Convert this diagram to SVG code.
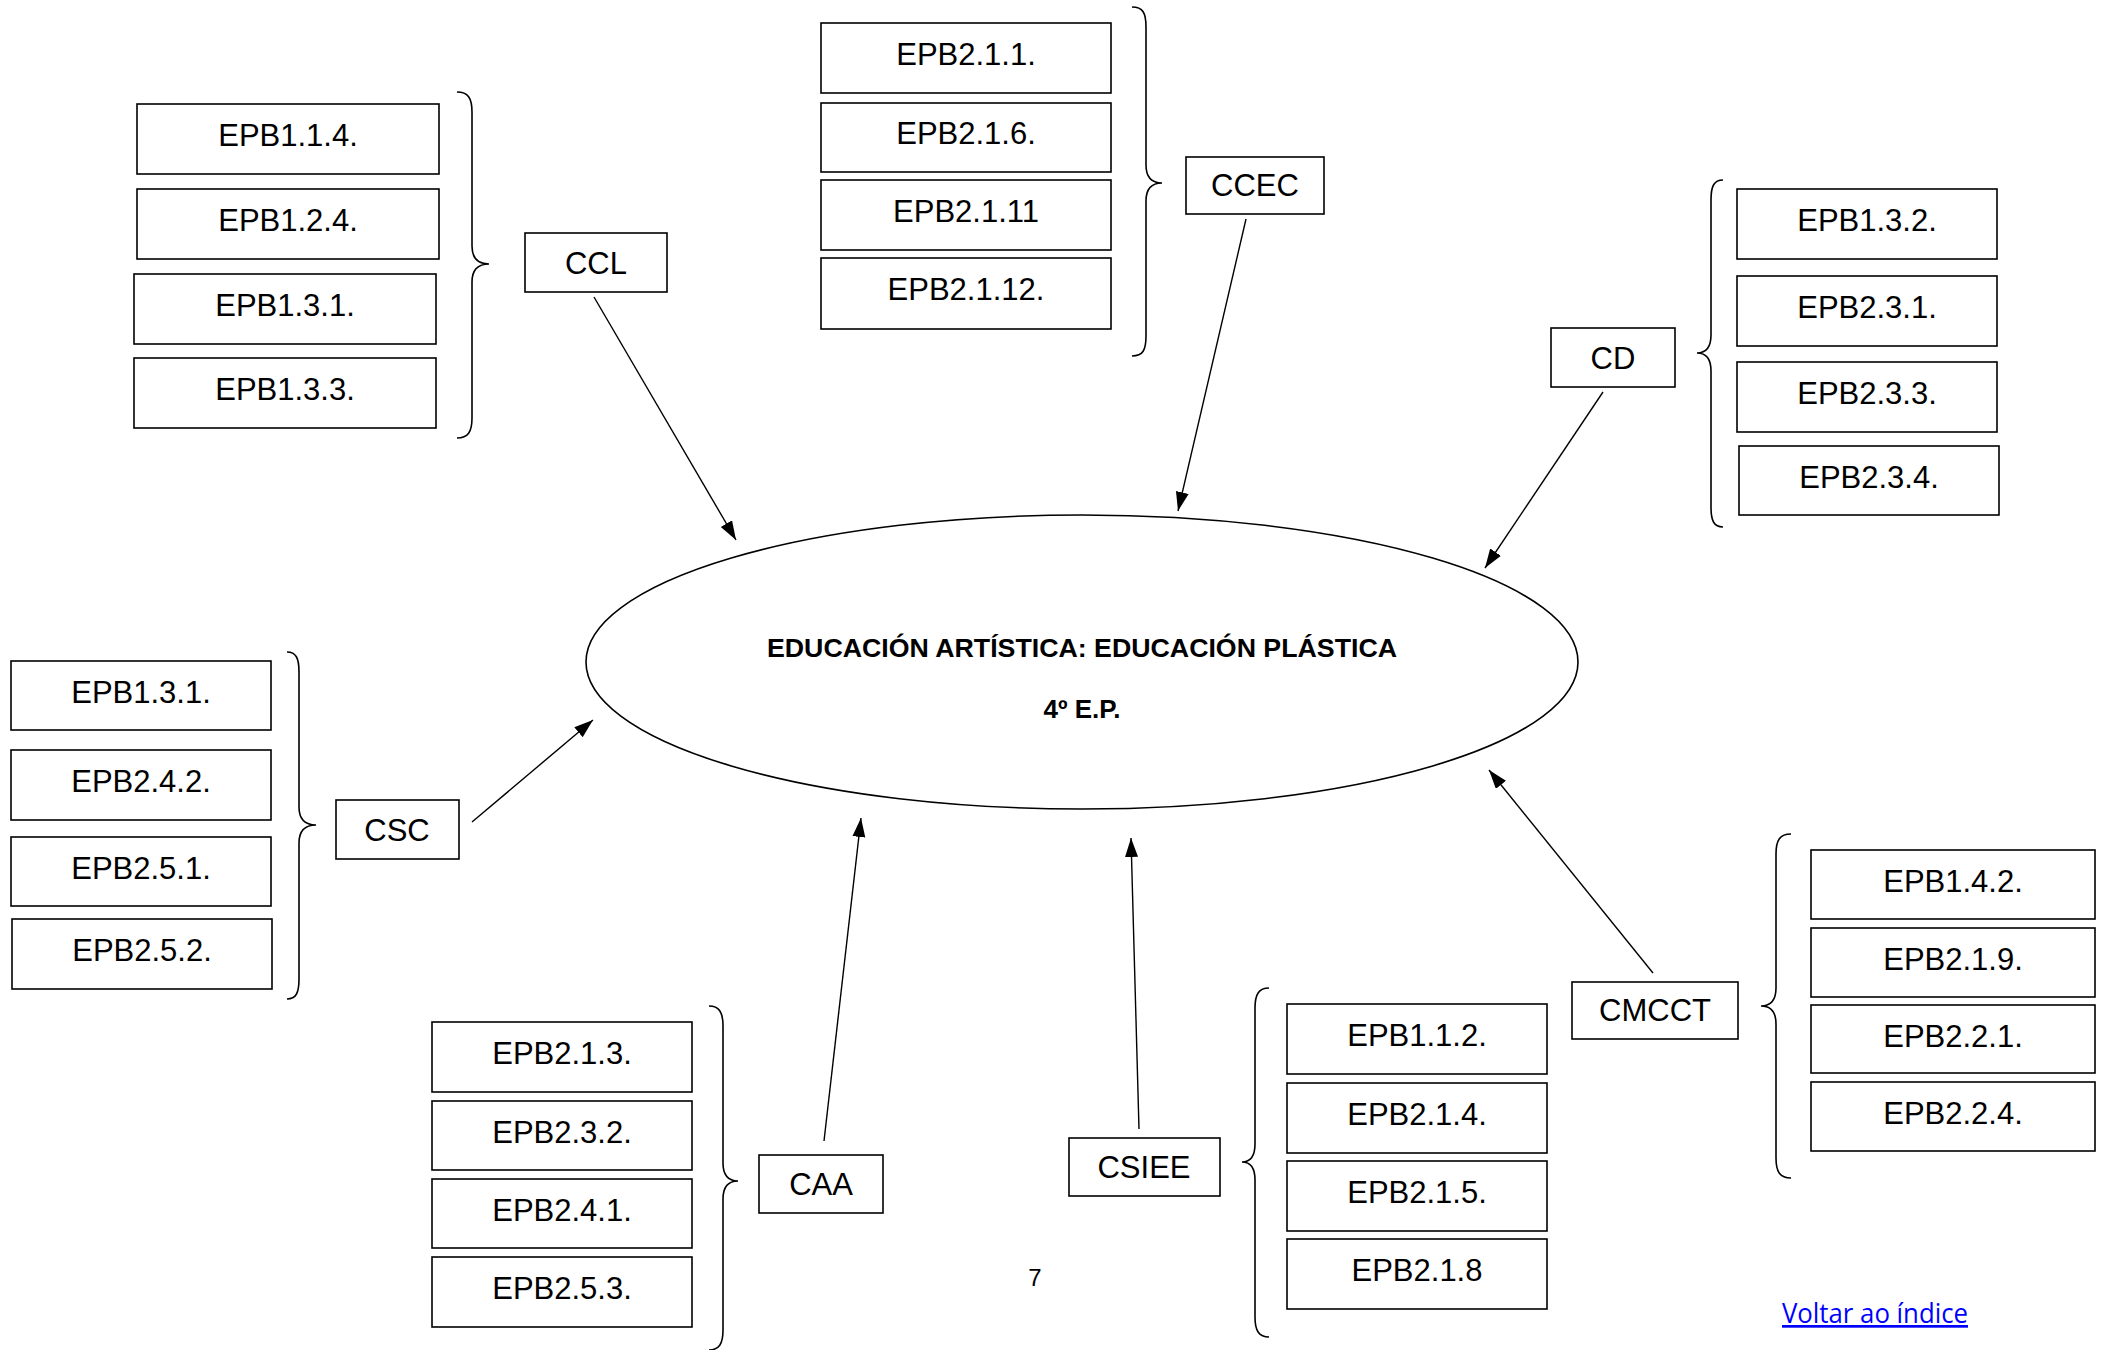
<svg xmlns="http://www.w3.org/2000/svg" width="2107" height="1350" viewBox="0 0 2107 1350">
<style>
.box{fill:#fff;stroke:#000;stroke-width:1.6}
.t{font-family:"Liberation Sans",Arial,sans-serif;font-size:31px;fill:#000;text-anchor:middle}
.br{fill:none;stroke:#000;stroke-width:1.6}
.ln{stroke:#000;stroke-width:1.4;fill:none;marker-end:url(#ah)}
.ttl{font-family:"Liberation Sans",Arial,sans-serif;font-size:26px;font-weight:bold;fill:#000;text-anchor:middle}
</style>
<defs>
<marker id="ah" markerUnits="userSpaceOnUse" markerWidth="22" markerHeight="14" refX="19" refY="6.5" orient="auto">
<path d="M0,0 L19,6.5 L0,13 z" fill="#000"/>
</marker>
</defs>
<rect width="2107" height="1350" fill="#fff"/>

<g id="center">
<ellipse cx="1082" cy="662" rx="496" ry="147" fill="#fff" stroke="#000" stroke-width="1.6"/>
<text class="ttl" x="1082" y="657" textLength="630" lengthAdjust="spacingAndGlyphs">EDUCACIÓN ARTÍSTICA: EDUCACIÓN PLÁSTICA</text>
<text class="ttl" x="1082" y="718">4º E.P.</text>
</g>

<g id="connectors">
<line class="ln" x1="594" y1="297" x2="736" y2="540"/>
<line class="ln" x1="1246" y1="219" x2="1178" y2="511"/>
<line class="ln" x1="1603" y1="392" x2="1485" y2="568"/>
<line class="ln" x1="472" y1="822" x2="593" y2="720"/>
<line class="ln" x1="824" y1="1141" x2="861" y2="818"/>
<line class="ln" x1="1139" y1="1129" x2="1131" y2="838"/>
<line class="ln" x1="1653" y1="973" x2="1489" y2="770"/>
</g>

<g id="ccl">
<rect class="box" x="137" y="104" width="302" height="70"/><text class="t" x="288" y="146">EPB1.1.4.</text>
<rect class="box" x="137" y="189" width="302" height="70"/><text class="t" x="288" y="231">EPB1.2.4.</text>
<rect class="box" x="134" y="274" width="302" height="70"/><text class="t" x="285" y="316">EPB1.3.1.</text>
<rect class="box" x="134" y="358" width="302" height="70"/><text class="t" x="285" y="400">EPB1.3.3.</text>
<path class="br" d="M457,92 C468,92 472,98 472,112 L472,246 C472,258 478,264 489,264 C478,264 472,270 472,282 L472,418 C472,432 468,438 457,438"/>
<rect class="box" x="525" y="233" width="142" height="59"/><text class="t" x="596" y="274">CCL</text>
</g>

<g id="ccec">
<rect class="box" x="821" y="23" width="290" height="70"/><text class="t" x="966" y="65">EPB2.1.1.</text>
<rect class="box" x="821" y="103" width="290" height="69"/><text class="t" x="966" y="144">EPB2.1.6.</text>
<rect class="box" x="821" y="180" width="290" height="70"/><text class="t" x="966" y="222">EPB2.1.11</text>
<rect class="box" x="821" y="258" width="290" height="71"/><text class="t" x="966" y="300">EPB2.1.12.</text>
<path class="br" d="M1132,7 C1143,7 1146,13 1146,27 L1146,165 C1146,177 1152,183 1162,183 C1152,183 1146,189 1146,201 L1146,336 C1146,350 1143,356 1132,356"/>
<rect class="box" x="1186" y="157" width="138" height="57"/><text class="t" x="1255" y="196">CCEC</text>
</g>

<g id="cd">
<rect class="box" x="1737" y="189" width="260" height="70"/><text class="t" x="1867" y="231">EPB1.3.2.</text>
<rect class="box" x="1737" y="276" width="260" height="70"/><text class="t" x="1867" y="318">EPB2.3.1.</text>
<rect class="box" x="1737" y="362" width="260" height="70"/><text class="t" x="1867" y="404">EPB2.3.3.</text>
<rect class="box" x="1739" y="446" width="260" height="69"/><text class="t" x="1869" y="488">EPB2.3.4.</text>
<path class="br" d="M1723,180 C1714,180 1711,186 1711,200 L1711,335 C1711,347 1706,353 1697,353 C1706,353 1711,359 1711,371 L1711,507 C1711,521 1714,527 1723,527"/>
<rect class="box" x="1551" y="328" width="124" height="59"/><text class="t" x="1613" y="369">CD</text>
</g>

<g id="csc">
<rect class="box" x="11" y="661" width="260" height="69"/><text class="t" x="141" y="703">EPB1.3.1.</text>
<rect class="box" x="11" y="750" width="260" height="70"/><text class="t" x="141" y="792">EPB2.4.2.</text>
<rect class="box" x="11" y="837" width="260" height="69"/><text class="t" x="141" y="879">EPB2.5.1.</text>
<rect class="box" x="12" y="919" width="260" height="70"/><text class="t" x="142" y="961">EPB2.5.2.</text>
<path class="br" d="M287,652 C296,652 299,658 299,672 L299,807 C299,819 305,825 316,825 C305,825 299,831 299,843 L299,979 C299,993 296,999 287,999"/>
<rect class="box" x="336" y="800" width="123" height="59"/><text class="t" x="397" y="841">CSC</text>
</g>

<g id="caa">
<rect class="box" x="432" y="1022" width="260" height="70"/><text class="t" x="562" y="1064">EPB2.1.3.</text>
<rect class="box" x="432" y="1101" width="260" height="69"/><text class="t" x="562" y="1143">EPB2.3.2.</text>
<rect class="box" x="432" y="1179" width="260" height="69"/><text class="t" x="562" y="1221">EPB2.4.1.</text>
<rect class="box" x="432" y="1257" width="260" height="70"/><text class="t" x="562" y="1299">EPB2.5.3.</text>
<path class="br" d="M709,1006 C719,1006 723,1012 723,1026 L723,1163 C723,1175 728,1181 738,1181 C728,1181 723,1187 723,1199 L723,1330 C723,1344 719,1350 709,1350"/>
<rect class="box" x="759" y="1155" width="124" height="58"/><text class="t" x="821" y="1195">CAA</text>
</g>

<g id="csiee">
<rect class="box" x="1287" y="1004" width="260" height="70"/><text class="t" x="1417" y="1046">EPB1.1.2.</text>
<rect class="box" x="1287" y="1083" width="260" height="70"/><text class="t" x="1417" y="1125">EPB2.1.4.</text>
<rect class="box" x="1287" y="1161" width="260" height="70"/><text class="t" x="1417" y="1203">EPB2.1.5.</text>
<rect class="box" x="1287" y="1239" width="260" height="70"/><text class="t" x="1417" y="1281">EPB2.1.8</text>
<path class="br" d="M1269,988 C1259,988 1255,994 1255,1008 L1255,1144 C1255,1156 1251,1162 1242,1162 C1251,1162 1255,1168 1255,1180 L1255,1317 C1255,1331 1259,1337 1269,1337"/>
<rect class="box" x="1069" y="1138" width="151" height="58"/><text class="t" x="1144" y="1178">CSIEE</text>
</g>

<g id="cmcct">
<rect class="box" x="1811" y="850" width="284" height="69"/><text class="t" x="1953" y="892">EPB1.4.2.</text>
<rect class="box" x="1811" y="928" width="284" height="69"/><text class="t" x="1953" y="970">EPB2.1.9.</text>
<rect class="box" x="1811" y="1005" width="284" height="68"/><text class="t" x="1953" y="1047">EPB2.2.1.</text>
<rect class="box" x="1811" y="1082" width="284" height="69"/><text class="t" x="1953" y="1124">EPB2.2.4.</text>
<path class="br" d="M1791,834 C1780,834 1776,840 1776,854 L1776,988 C1776,1000 1771,1006 1761,1006 C1771,1006 1776,1012 1776,1024 L1776,1158 C1776,1172 1780,1178 1791,1178"/>
<rect class="box" x="1572" y="982" width="166" height="57"/><text class="t" x="1655" y="1021">CMCCT</text>
</g>

<text x="1035" y="1286" font-family="Liberation Sans, Arial, sans-serif" font-size="24" text-anchor="middle" fill="#000">7</text>
<text x="1782" y="1323" font-family="Open Sans, Liberation Sans, sans-serif" font-size="27" fill="#0000FF" text-decoration="underline" textLength="186" lengthAdjust="spacingAndGlyphs">Voltar ao índice</text>
</svg>
